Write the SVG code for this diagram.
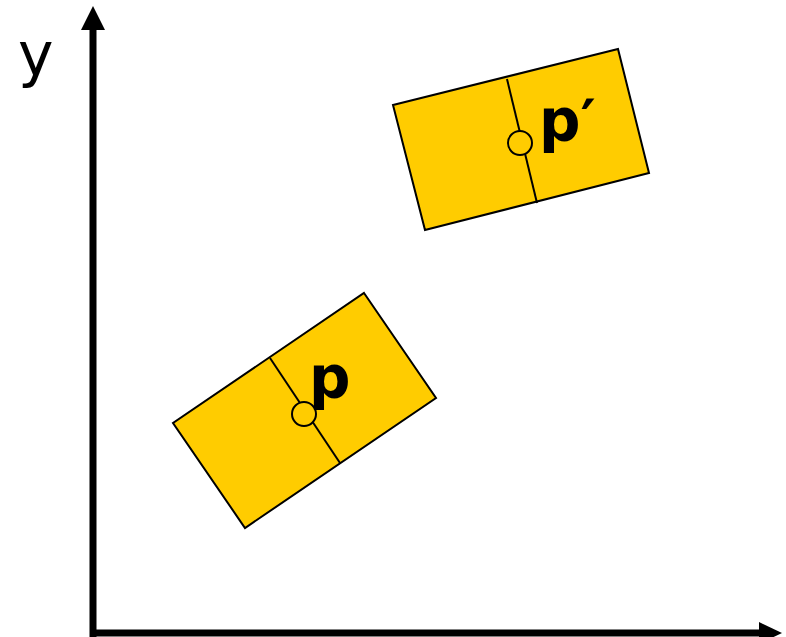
<svg xmlns="http://www.w3.org/2000/svg" width="786" height="637" viewBox="0 0 786 637">
<style>
.box{fill:#FFCC00;stroke:#000;stroke-width:2;stroke-linejoin:miter}
.div{stroke:#000;stroke-width:2;fill:none}
.pt{fill:#FFCC00;stroke:#000;stroke-width:2}
.lbl{font-family:"DejaVu Sans",Verdana,sans-serif;font-weight:bold;font-size:58px;fill:#000}
.ax{stroke:#000;stroke-width:7;fill:none}
</style>
<rect width="786" height="637" fill="#fff"/>
<g id="axes">
<line class="ax" x1="93" y1="637" x2="93" y2="27"/>
<polygon points="93,6 105,30 81,30" fill="#000"/>
<line class="ax" x1="90" y1="633" x2="761" y2="633"/>
<polygon points="782,633 759,622 759,644" fill="#000"/>
<text x="18" y="75" font-family="DejaVu Sans,Verdana,sans-serif" font-size="60" fill="#000">y</text>
</g>
<g id="rect-p">
<polygon class="box" points="364,293 436,398 245,528 173,423"/>
<line class="div" x1="270" y1="358" x2="340" y2="463"/>
<circle class="pt" cx="304" cy="414" r="12"/>
<text class="lbl" x="309" y="398">p</text>
</g>
<g id="rect-p-prime">
<polygon class="box" points="393,105 618,49 649,173 425,230"/>
<line class="div" x1="507" y1="79" x2="537" y2="203"/>
<circle class="pt" cx="520" cy="143" r="12"/>
<text class="lbl" x="539" y="141">p′</text>
</g>
</svg>
